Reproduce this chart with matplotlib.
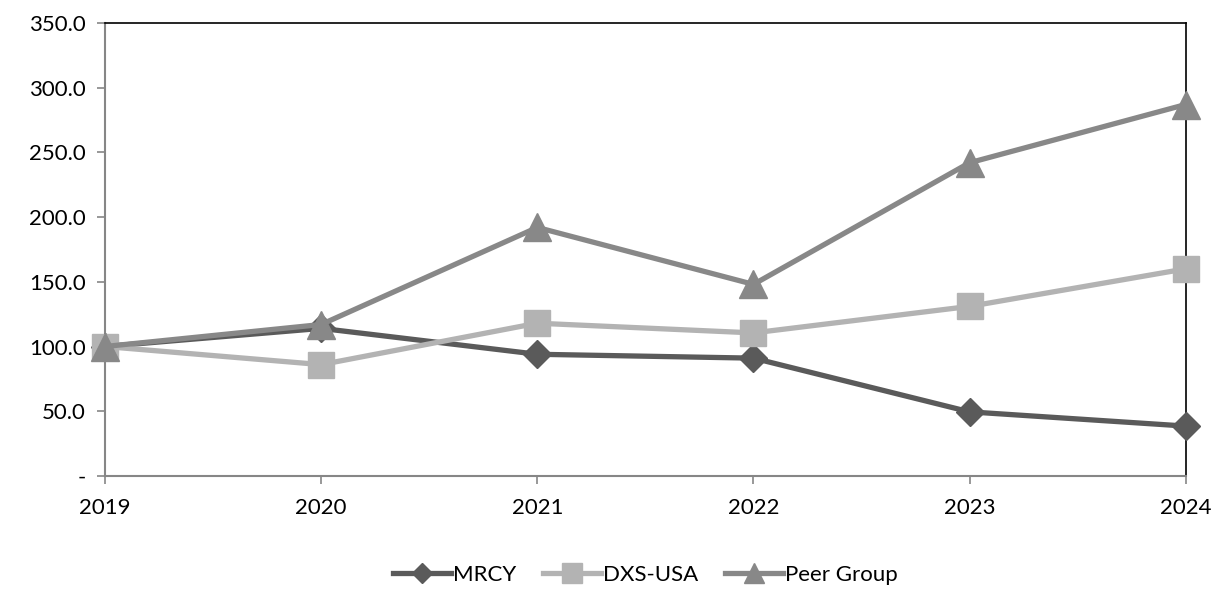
import matplotlib.pyplot as plt
from matplotlib.ticker import FuncFormatter

# hodnoty odčítané z grafu
years = [2019, 2020, 2021, 2022, 2023, 2024]
mrcy = [100.0, 114.0, 94.0, 91.0, 49.5, 38.5]
dxs = [100.0, 86.0, 118.0, 110.5, 131.0, 160.0]
peer = [100.0, 117.0, 192.0, 148.0, 242.0, 287.0]

plt.rcParams['font.family'] = ['Lato', 'DejaVu Sans']

fig = plt.figure(figsize=(12.17, 5.89), dpi=100)
ax = fig.add_axes([0.0863, 0.192, 0.888, 0.769])

ax.plot(years, mrcy, color='#5a5a5a', lw=3.8, marker='D', ms=14, label='MRCY', zorder=3)
ax.plot(years, dxs, color='#b3b3b3', lw=3.8, marker='s', ms=19, label='DXS-USA', zorder=4)
ax.plot(years, peer, color='#888888', lw=3.8, marker='^', ms=20, label='Peer Group', zorder=5)

ax.set_xlim(2019, 2024)
ax.set_ylim(0, 350)
ax.set_xticks(years)
ax.set_yticks(range(0, 351, 50))
ax.yaxis.set_major_formatter(FuncFormatter(lambda v, p: '-' if v == 0 else f'{v:.1f}'))

for s in ['left', 'bottom']:
    ax.spines[s].set_color('#868686')
    ax.spines[s].set_linewidth(1.5)
for s in ['top', 'right']:
    ax.spines[s].set_color('black')
    ax.spines[s].set_linewidth(1.2)
ax.tick_params(axis='both', color='#868686', length=6, width=1.2, labelsize=16, pad=8)
ax.tick_params(axis='x', pad=10)

for line in ax.get_lines():
    line.set_clip_on(False)

ax.legend(loc='center', bbox_to_anchor=(0.5, -0.218), ncol=3, frameon=False,
          fontsize=16, handlelength=2.6, columnspacing=1.2, handletextpad=0.1,
          markerscale=0.75)

fig.savefig('out.png', dpi=100)
